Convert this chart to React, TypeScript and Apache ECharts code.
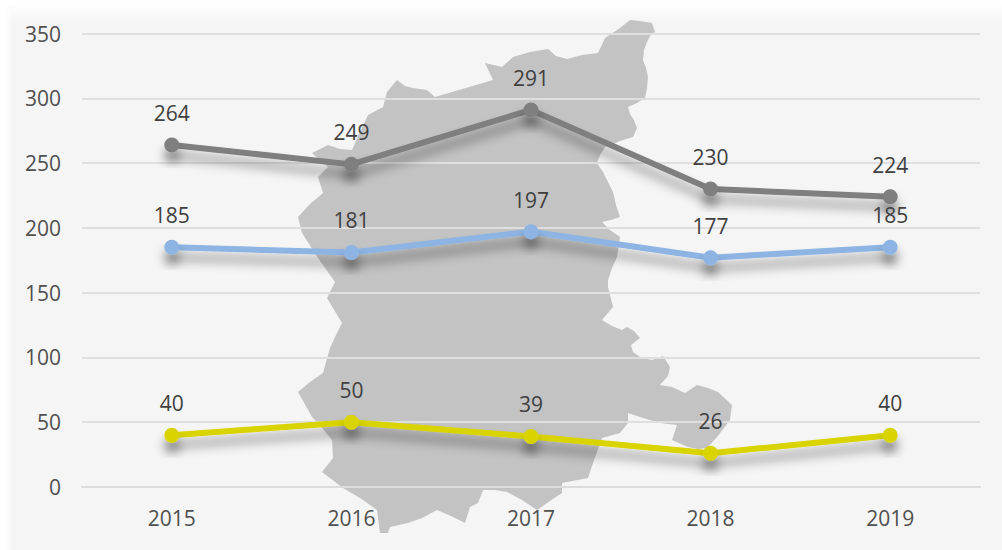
import React, { useEffect, useRef } from "react";
import * as echarts from "echarts";

const years = ["2015", "2016", "2017", "2018", "2019"];
const grayValues = [264, 249, 291, 230, 224];
const blueValues = [185, 181, 197, 177, 185];
const yellowValues = [40, 50, 39, 26, 40];
const FONT = "'Open Sans', sans-serif";

const MAP_D =
  "M630 20 L640 21 L652 23 L655 32 L650 36 L647 42 L644 50 L643 60 L646 68 L648 77 L647 88 L645 98 L637 103 L628 107 L630 114 L634 120 L637 128 L633 137 L620 141 L605 147 L600 155 L597 163 L603 172 L608 182 L613 192 L616 205 L620 217 L611 220 L602 222 L610 230 L620 237 L617 257 L612 268 L608 280 L608 287 L613 307 L602 320 L612 326 L622 330 L627 327 L634 331 L640 338 L631 345 L633 352 L640 357 L652 360 L663 356 L670 367 L668 376 L660 385 L672 387 L685 393 L697 385 L708 388 L718 392 L732 405 L730 420 L717 437 L707 448 L698 449 L688 447 L672 440 L677 425 L660 423 L643 418 L628 413 L628 423 L620 433 L602 438 L597 452 L592 466 L588 478 L562 483 L562 493 L550 501 L537 510 L522 500 L507 492 L495 490 L483 490 L478 503 L470 507 L465 523 L451 516 L437 510 L422 518 L408 523 L390 527 L388 533 L380 533 L377 510 L360 498 L343 488 L322 472 L333 458 L332 440 L322 428 L312 417 L298 392 L310 382 L323 373 L330 348 L336 335 L342 323 L327 298 L335 282 L318 258 L302 233 L298 217 L310 204 L323 193 L318 177 L328 167 L312 153 L328 145 L340 149 L352 150 L360 132 L368 115 L383 107 L387 92 L397 80 L405 86 L413 88 L427 90 L435 97 L493 80 L485 63 L502 67 L513 57 L530 52 L548 49 L556 56 L567 59 L582 55 L598 53 L605 38 L620 28 Z";

echarts.graphic.registerShape("regionMap", echarts.graphic.extendPath(MAP_D, {}) as any);

const shadow = {
  shadowColor: "rgba(0,0,0,0.4)",
  shadowBlur: 11,
  shadowOffsetY: 10,
};

function makeSeries(name: string, data: number[], color: string) {
  return {
    name,
    type: "line",
    data,
    symbol: "circle",
    symbolSize: 15,
    z: 5,
    lineStyle: { color, width: 6, cap: "round", ...shadow },
    itemStyle: { color, ...shadow },
    label: {
      show: true,
      position: "top",
      distance: 14,
      fontFamily: FONT,
      fontSize: 21,
      color: "#404040",
    },
  };
}

export default function App() {
  const ref = useRef<HTMLDivElement>(null);
  useEffect(() => {
    document.body.style.margin = "0";
    const chart = echarts.init(ref.current!, undefined, { renderer: "svg" });
    chart.setOption({
      animation: false,
      backgroundColor: "#ffffff",
      grid: { left: 82, right: 22, top: 33.5, bottom: 63, containLabel: false },
      xAxis: {
        type: "category",
        data: years,
        axisTick: { show: false },
        axisLine: { show: true, lineStyle: { color: "#dcdcdc", width: 2 } },
        axisLabel: { fontFamily: FONT, fontSize: 21, color: "#505050", margin: 20 },
      },
      yAxis: {
        type: "value",
        min: 0,
        max: 350,
        interval: 50,
        axisLine: { show: false },
        axisTick: { show: false },
        axisLabel: { fontFamily: FONT, fontSize: 21, color: "#505050", margin: 21 },
        splitLine: { lineStyle: { color: "#dfdfdf", width: 2 } },
      },
      graphic: [
        {
          type: "rect",
          z: -20,
          silent: true,
          shape: { x: 6, y: 6, width: 996, height: 544 },
          style: { fill: "#f5f5f5" },
        },
        {
          type: "rect",
          z: -19,
          silent: true,
          shape: { x: 6, y: 4, width: 996, height: 18 },
          style: {
            fill: new echarts.graphic.LinearGradient(0, 0, 0, 1, [
              { offset: 0, color: "#ffffff" },
              { offset: 1, color: "#f5f5f5" },
            ]),
          },
        },
        {
          type: "rect",
          z: -19,
          silent: true,
          shape: { x: 6, y: 6, width: 11, height: 544 },
          style: {
            fill: new echarts.graphic.LinearGradient(0, 0, 1, 0, [
              { offset: 0, color: "#ffffff" },
              { offset: 1, color: "rgba(245,245,245,0)" },
            ]),
          },
        },
        {
          type: "regionMap",
          z: -10,
          silent: true,
          style: { fill: "#c3c3c3" },
        },
      ],
      series: [
        makeSeries("Gray", grayValues, "#7f7f7f"),
        makeSeries("Blue", blueValues, "#8db4e3"),
        makeSeries("Yellow", yellowValues, "#d9d400"),
      ],
    });
    return () => chart.dispose();
  }, []);
  return <div ref={ref} style={{ width: 1002, height: 550 }} />;
}
